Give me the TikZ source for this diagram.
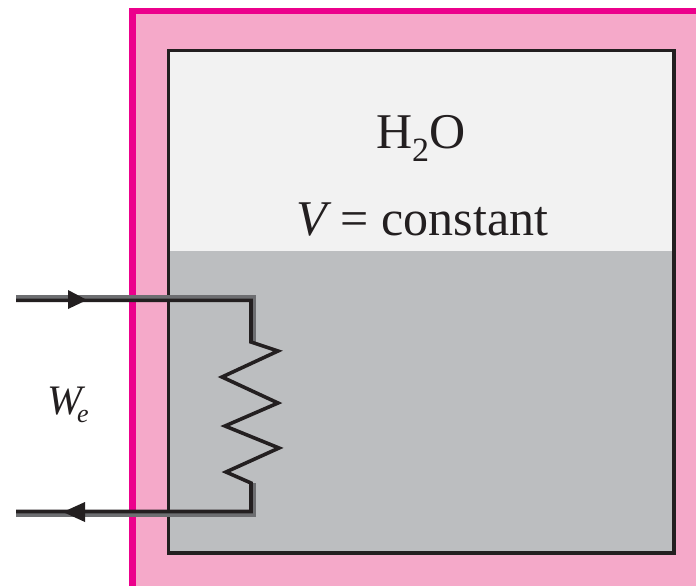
\documentclass[tikz,border=0pt]{standalone}
\usepackage{fontspec}
\setmainfont{Liberation Serif}
\definecolor{mag}{HTML}{EC008C}
\definecolor{pinkfill}{HTML}{F5A9C9}
\definecolor{lightfill}{HTML}{F2F2F2}
\definecolor{grayfill}{HTML}{BCBEC0}
\definecolor{ink}{HTML}{231F20}
\definecolor{shade}{HTML}{6D6E71}
\newcommand{\lbl}[1]{\fontsize{#1}{#1}\selectfont}
\tikzset{
  txt/.style={inner sep=0pt,outer sep=0pt,anchor=base west,text=ink},
  wire/.style={draw=ink,line width=3.6pt,line join=miter},
  wireshade/.style={draw=shade,line width=3.4pt,line join=miter},
  tip/.style={fill=ink,draw=none},
}
\begin{document}
\begin{tikzpicture}[x=1pt,y=-1pt]
\useasboundingbox (0,0) rectangle (696,586);
\fill[white] (0,0) rectangle (696,586);
% jacket
\fill[mag] (129,8) rectangle (696,586);
\fill[pinkfill] (136,14) rectangle (696,586);
% vessel contents
\fill[lightfill] (168.5,50.5) rectangle (674,253);
\fill[grayfill] (168.5,251) rectangle (674,553);
\draw[ink,line width=3.5pt] (168.5,50.5) rectangle (674,553);
% labels
\node[txt] (h2o) at (376,148.5) {\lbl{50}H\raisebox{-13pt}{\lbl{34}2}O};
\node[txt] (vol) at (296,235) {\lbl{50}\textit{V}\kern-3pt{} = constant};
\node[txt] (we) at (47,414) {\lbl{42}\textit{W}\kern-8pt\raisebox{-8pt}{\lbl{26}\textit{e}}};
% wire points
\coordinate (a) at (16,300.3);
\coordinate (b) at (251,300.3);
\coordinate (c) at (251,342);
\coordinate (r1) at (278,351);
\coordinate (r2) at (222,377);
\coordinate (r3) at (278,403);
\coordinate (r4) at (225,426);
\coordinate (r5) at (279,448);
\coordinate (r6) at (226,472);
\coordinate (d) at (251,483);
\coordinate (e) at (251,511.5);
\coordinate (f) at (16,511.5);
% soft shadow of the wire
\draw[wireshade] (16,297) -- (254.3,297) -- (254.3,342);
\draw[wireshade] (254.3,483) -- (254.3,515) -- (16,515);
% wire
\draw[wire] (a) -- (b) -- (c) -- (r1) -- (r2) -- (r3) -- (r4) -- (r5) -- (r6) -- (d) -- (e) -- (f);
% arrowheads
\fill[tip] (68,290) -- (87,300) -- (68,309) -- cycle;
\fill[tip] (85,502) -- (63,512) -- (85,522) -- cycle;
\end{tikzpicture}
\end{document}
